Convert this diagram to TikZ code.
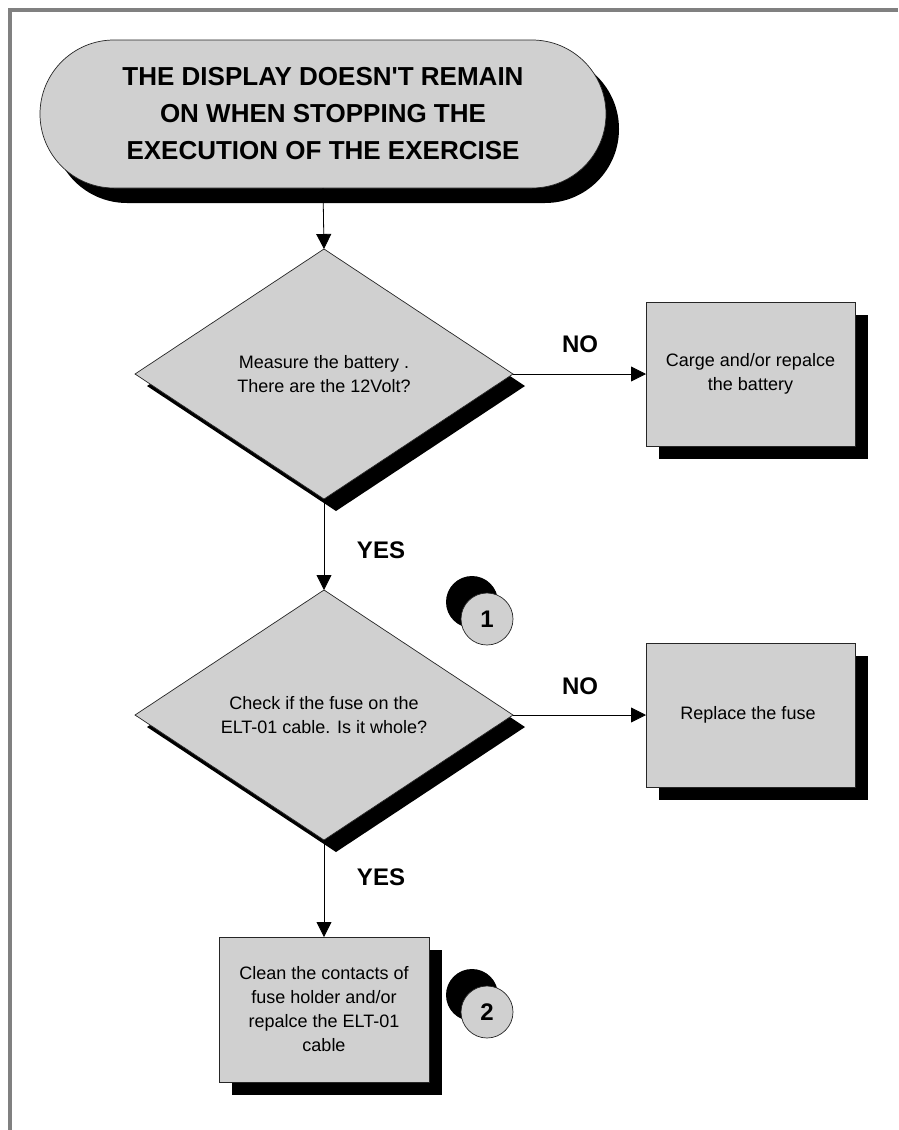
\documentclass[tikz,border=0pt]{standalone}
\usepackage{fontspec}
\setmainfont{Liberation Sans}
\usetikzlibrary{arrows.meta,positioning,shapes.geometric,shadows}
\definecolor{shapegray}{RGB}{208,208,208}
\definecolor{framegray}{RGB}{128,128,128}

\begin{document}
\begin{tikzpicture}[
  x=1pt, y=-1pt,
  font=\fontsize{18}{24}\selectfont,
  flow shape/.style={
    draw=black!85,
    fill=shapegray,
    line width=0.7pt,
    align=center,
    inner sep=0pt,
    outer sep=0pt
  },
  start oval/.style={
    flow shape,
    rectangle,
    rounded corners=74pt,
    minimum width=566pt,
    minimum height=148pt,
    font=\fontsize{26}{37}\selectfont\bfseries,
    drop shadow={shadow xshift=13pt,shadow yshift=-15pt,fill=black,opacity=1}
  },
  decision/.style={
    flow shape,
    diamond,
    aspect=1.5,
    minimum width=378pt,
    minimum height=250pt,
    drop shadow={shadow xshift=12pt,shadow yshift=-12pt,fill=black,opacity=1}
  },
  action box/.style={
    flow shape,
    rectangle,
    minimum width=209pt,
    minimum height=144pt,
    drop shadow={shadow xshift=13pt,shadow yshift=-13pt,fill=black,opacity=1}
  },
  marker/.style={
    flow shape,
    circle,
    minimum size=52pt,
    font=\fontsize{24}{28}\selectfont\bfseries,
    drop shadow={shadow xshift=-15pt,shadow yshift=17pt,fill=black,opacity=1}
  },
  answer/.style={
    font=\fontsize{24}{28}\selectfont\bfseries
  },
  flow arrow/.style={
    -{Triangle[length=15pt,width=15pt]},
    line width=0.8pt
  }
]
\useasboundingbox (0,0) rectangle (898,1130);

% page frame
\draw[framegray,line width=4pt] (10,1130) -- (10,10) -- (898,10);

\node[start oval] (problem) at (323,114) {
  THE DISPLAY DOESN\textquotesingle T REMAIN\\
  ON WHEN STOPPING THE\\
  EXECUTION OF THE EXERCISE
};

\node[decision] (battery) at (324,374) {
  Measure the battery .\\
  There are the 12Volt?
};
\node[action box,right=133pt of battery] (charge) {
  Carge and/or repalce\\
  the battery
};

\node[decision,below=91pt of battery] (fuse) {
  Check if the fuse on the\\
  ELT-01 cable. Is it whole?
};
\node[action box,right=133pt of fuse] (replace) {
  Replace the fuse
};

\node[action box,minimum width=210pt,minimum height=145pt,below=97pt of fuse] (clean) {
  Clean the contacts of\\
  fuse holder and/or\\
  repalce the ELT-01\\
  cable
};

\node[marker] (step-one) at (487,619) {1};
\node[marker] (step-two) at (487,1012) {2};

\draw[flow arrow] (problem.south) -- (battery.north);
\draw[flow arrow] (battery.east) -- (charge.west);
\draw[flow arrow] (battery.south) -- (fuse.north);
\draw[flow arrow] (fuse.east) -- (replace.west);
\draw[flow arrow] (fuse.south) -- (clean.north);

\node[answer] (no-battery) at (580,344) {NO};
\node[answer] (yes-battery) at (381,550) {YES};
\node[answer] (no-fuse) at (580,686) {NO};
\node[answer] (yes-fuse) at (381,877) {YES};

\end{tikzpicture}
\end{document}
